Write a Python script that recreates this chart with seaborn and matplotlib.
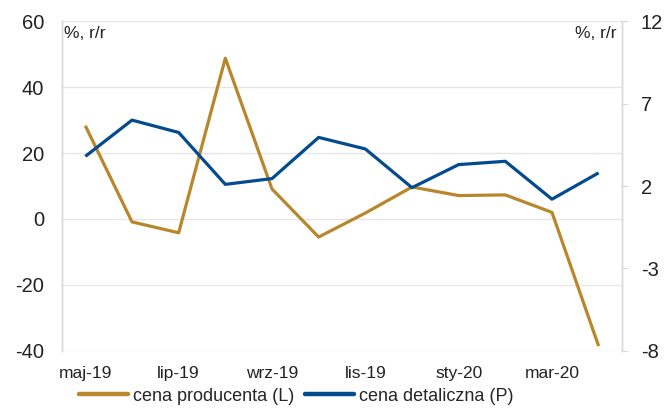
import matplotlib
matplotlib.use("Agg")
import matplotlib.pyplot as plt
from matplotlib.lines import Line2D
import seaborn as sns
import pandas as pd
import numpy as np

# Monthly data, May 2019 - April 2020
months = ["maj-19", "cze-19", "lip-19", "sie-19", "wrz-19", "paź-19",
          "lis-19", "gru-19", "sty-20", "lut-20", "mar-20", "kwi-20"]
producer_price = [28.3, -0.9, -4.2, 48.8, 9.1, -5.5, 1.8, 9.7, 7.1, 7.3, 2.0, -38.6]
retail_price = [3.8, 6.0, 5.25, 2.1, 2.45, 4.95, 4.25, 1.9, 3.3, 3.5, 1.2, 2.8]

left_ticks = [-40, -20, 0, 20, 40, 60]
right_ticks = [-8, -3, 2, 7, 12]

GOLD = "#B8862B"
BLUE = "#034A8E"
GRID = "#E6E6E6"
SPINE = "#D9D9D9"
TEXT = "#222222"

sns.set_theme(style="white")
plt.rcParams["font.family"] = ["Liberation Sans", "DejaVu Sans"]
plt.rcParams["axes.unicode_minus"] = False

df = pd.DataFrame({
    "pos": np.arange(len(months)),
    "month": months,
    "producer": producer_price,
    "retail": retail_price,
})

fig = plt.figure(figsize=(6.66, 4.08), dpi=100)
ax = fig.add_axes([0.0931, 0.1404, 0.8408, 0.8074])
ax2 = ax.twinx()

sns.lineplot(data=df, x="pos", y="producer", ax=ax, color=GOLD, linewidth=2.3,
             solid_capstyle="butt", zorder=3)
sns.lineplot(data=df, x="pos", y="retail", ax=ax2, color=BLUE, linewidth=2.3,
             solid_capstyle="butt", zorder=3)

ax.set_xlim(-0.5, len(months) - 0.5)
ax.set_ylim(left_ticks[0], left_ticks[-1])
ax2.set_ylim(right_ticks[0], right_ticks[-1])

ax.set_yticks(left_ticks)
ax2.set_yticks(right_ticks)
ax.set_xticks(df["pos"][::2])
ax.set_xticklabels(df["month"][::2], fontsize=12.5)

ax.set_xlabel("")
ax.set_ylabel("")
ax2.set_ylabel("")

ax.grid(axis="y", color=GRID, linewidth=1.0)
ax.grid(axis="x", visible=False)
ax2.grid(False)
ax.set_axisbelow(True)

ax.tick_params(axis="y", length=0, pad=13, labelsize=14.5, labelcolor=TEXT)
ax.tick_params(axis="x", length=0, pad=11, labelcolor=TEXT)
ax2.tick_params(axis="y", length=4.5, width=0.8, color=SPINE, pad=9,
                labelsize=14.5, labelcolor=TEXT)

for a in (ax, ax2):
    for sp in a.spines.values():
        sp.set_color(SPINE)
        sp.set_linewidth(1.0)
    a.spines["top"].set_visible(False)
    a.spines["bottom"].set_visible(False)

ax.text(0.003, 0.985, "%, r/r", transform=ax.transAxes, ha="left", va="top",
        fontsize=12.5, color=TEXT)
ax.text(0.99, 0.985, "%, r/r", transform=ax.transAxes, ha="right", va="top",
        fontsize=12.5, color=TEXT)

handles = [Line2D([], [], color=GOLD, linewidth=3.2),
           Line2D([], [], color=BLUE, linewidth=3.2)]
fig.legend(handles, ["cena producenta (L)", "cena detaliczna (P)"],
           loc="lower center", bbox_to_anchor=(0.445, -0.032), ncol=2,
           frameon=False, handlelength=2.7, handletextpad=0.3,
           columnspacing=0.6, prop={"size": 13})

fig.savefig("out.png", dpi=100)
